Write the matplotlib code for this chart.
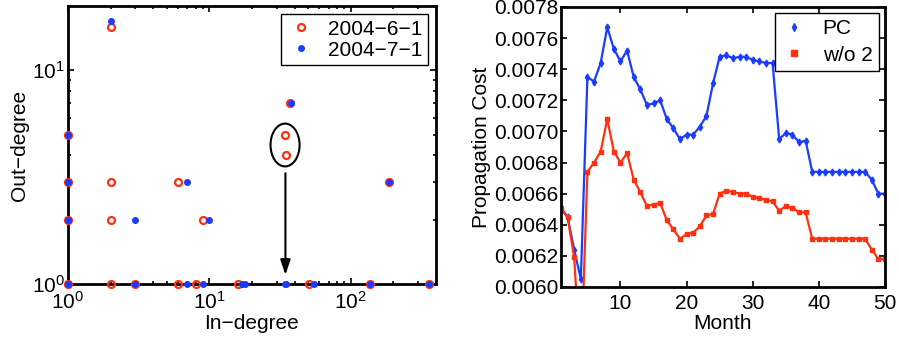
import numpy as np
import matplotlib
matplotlib.use("Agg")
import matplotlib.pyplot as plt
from matplotlib.patches import Ellipse
from matplotlib.lines import Line2D

plt.rcParams['font.family'] = ['Liberation Sans', 'DejaVu Sans']
plt.rcParams['mathtext.fontset'] = 'custom'
plt.rcParams['mathtext.rm'] = 'Liberation Sans'
plt.rcParams['font.size'] = 15

BLUE = '#1a3cff'
RED = '#ff3010'

# left panel: in-degree / out-degree of nodes
june_in = [2, 1, 1, 1, 2, 2, 6, 9, 37, 34, 35, 186, 1, 2, 3, 6, 8, 16, 51, 136, 360]
june_out = [16, 5, 3, 2, 3, 2, 3, 2, 7, 5, 4, 3, 1, 1, 1, 1, 1, 1, 1, 1, 1]
july_in = [2, 1, 1, 1, 7, 3, 10, 38, 186, 1, 3, 7, 9, 17, 18, 34, 35, 55, 136, 360]
july_out = [17, 5, 3, 2, 3, 2, 2, 7, 3, 1, 1, 1, 1, 1, 1, 1, 1, 1, 1, 1]

# right panel: propagation cost per month
months = np.arange(1, 51)
pc = [0.00650, 0.00645, 0.00624, 0.00605, 0.00735, 0.00732, 0.00744, 0.00767,
      0.00753, 0.00745, 0.00752, 0.00735, 0.00727, 0.00717, 0.00718, 0.00720,
      0.00708, 0.00702, 0.00695, 0.00698, 0.00698, 0.00703, 0.00710, 0.00731,
      0.00748, 0.00749, 0.00747, 0.00748, 0.00748, 0.00746, 0.00745, 0.00744,
      0.00744, 0.00695, 0.00699, 0.00698, 0.00693, 0.00694, 0.00674, 0.00674,
      0.00674, 0.00674, 0.00674, 0.00674, 0.00674, 0.00674, 0.00674, 0.00669,
      0.00660, 0.00660]
wo2 = [0.00651, 0.00645, 0.00619, 0.00548, 0.00674, 0.00680, 0.00687, 0.00708,
       0.00687, 0.00680, 0.00686, 0.00669, 0.00661, 0.00652, 0.00653, 0.00654,
       0.00643, 0.00637, 0.00631, 0.00634, 0.00635, 0.00639, 0.00646, 0.00647,
       0.00660, 0.00662, 0.00661, 0.00660, 0.00660, 0.00658, 0.00657, 0.00656,
       0.00655, 0.00649, 0.00652, 0.00651, 0.00648, 0.00648, 0.00631, 0.00631,
       0.00631, 0.00631, 0.00631, 0.00631, 0.00631, 0.00631, 0.00631, 0.00624,
       0.00618, 0.00618]

fig = plt.figure(figsize=(8.99, 3.39), dpi=100)
ax1 = fig.add_axes([0.0756, 0.1622, 0.4093, 0.8201])
ax2 = fig.add_axes([0.624, 0.1534, 0.3604, 0.826])

# ---- left: scatter on log-log ----
ax1.plot(june_in, june_out, 'o', ls='none', mec=RED, mfc='none', mew=1.6, ms=5,
         clip_on=False, zorder=3, label='2004\u22126\u22121')
ax1.plot(july_in, july_out, 'o', ls='none', mec=BLUE, mfc=BLUE, ms=4,
         clip_on=False, zorder=3, label='2004\u22127\u22121')
ax1.set_xscale('log')
ax1.set_yscale('log')
ax1.set_xlim(1, 400)
ax1.set_ylim(1, 20)
ax1.set_xlabel('In\u2212degree', labelpad=1)
ax1.set_ylabel('Out\u2212degree', labelpad=2)
ax1.add_patch(Ellipse((0.59, 0.50), 0.079, 0.154, transform=ax1.transAxes,
                      fill=False, ec='k', lw=1.5))
ax1.annotate('', xy=(34.5, 1.07), xytext=(34.5, 3.4),
             arrowprops=dict(arrowstyle='-|>,head_length=0.6,head_width=0.2',
                             color='k', lw=1.5))
leg1 = ax1.legend(loc='upper right', fancybox=False, framealpha=1,
                  edgecolor='k', borderpad=0.25, handletextpad=0.6,
                  handlelength=1.4, labelspacing=0.1, borderaxespad=0.4)
leg1.get_frame().set_linewidth(1.0)

# ---- right: propagation cost ----
ax2.plot(months, pc, '-', color=BLUE, lw=1.6, marker='d', ms=3.5)
ax2.plot(months, wo2, '-', color=RED, lw=1.6, marker='s', ms=3.5)
ax2.set_xlim(1, 50)
ax2.set_ylim(0.0060, 0.0078)
ax2.set_yticks(np.arange(0.0060, 0.00781, 0.0002))
ax2.yaxis.set_major_formatter(plt.FormatStrFormatter('%.4f'))
ax2.set_xticks([10, 20, 30, 40, 50])
ax2.set_xlabel('Month', labelpad=1)
ax2.set_ylabel('Propagation Cost', labelpad=2)
handles = [Line2D([], [], ls='none', marker='d', color=BLUE, ms=4),
           Line2D([], [], ls='none', marker='s', color=RED, ms=4)]
leg2 = ax2.legend(handles, ['PC', 'w/o 2'], loc='upper right', fancybox=False,
                  framealpha=1, edgecolor='k', borderpad=0.3,
                  handletextpad=0.8, handlelength=1.2, labelspacing=0.35,
                  borderaxespad=0.3)
leg2.get_frame().set_linewidth(1.0)

for ax in (ax1, ax2):
    for s in ax.spines.values():
        s.set_linewidth(2)
    ax.tick_params(which='both', direction='in', top=True, right=True,
                   width=1.2, labelsize=15, pad=2)
    ax.tick_params(axis='x', which='both', pad=5)
    ax.tick_params(which='major', length=4)
    ax.tick_params(which='minor', length=2)

fig.savefig('out.png', dpi=100)
